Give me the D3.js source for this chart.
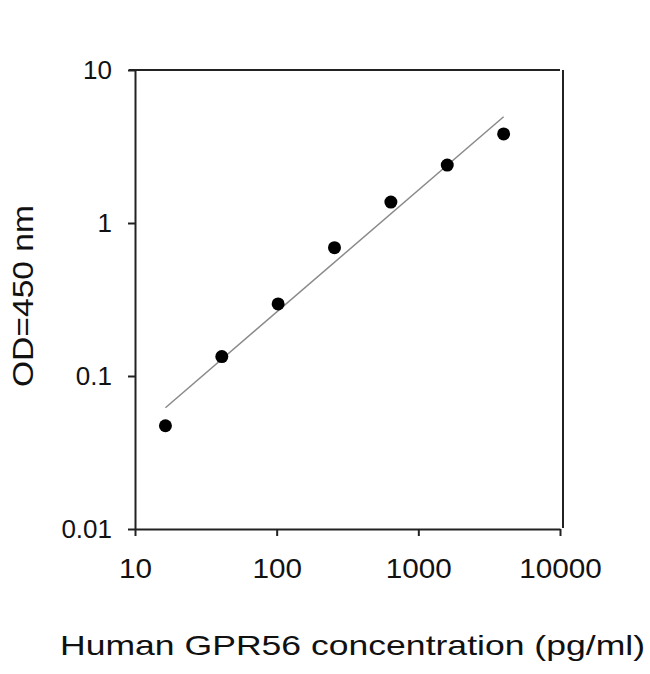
<!DOCTYPE html>
<html>
<head>
<meta charset="utf-8">
<script src="https://cdn.jsdelivr.net/npm/d3@7"></script>
<style>
  body { margin: 0; background: #fff; }
  text { font-family: "Liberation Sans", Arial, sans-serif; fill: #111; }
</style>
</head>
<body>
<main></main>
<script>
// standard curve values
const concentration = [16.4, 41, 102.4, 256, 640, 1600, 4000];
const od450 = [0.0473, 0.134, 0.296, 0.69, 1.37, 2.39, 3.82];

// fitted line ends
const fitX = [16.4, 4000];
const fitY = [0.062, 4.95];

const xTicks = [10, 100, 1000, 10000];
const yTicks = [0.01, 0.1, 1, 10];

const svg = d3.select("main")
              .append("svg")
              .attr("width", 650)
              .attr("height", 674);

const x = d3.scaleLog().domain([10, 10000]).range([135, 560]);
const y = d3.scaleLog().domain([0.01, 10]).range([529, 70]);

// frame lines (top and right)
svg.append("line")
   .attr("x1", 129).attr("x2", 560)
   .attr("y1", y(10)).attr("y2", y(10))
   .attr("stroke", "#222").attr("stroke-width", 2);
svg.append("line")
   .attr("x1", 563).attr("x2", 563)
   .attr("y1", y(10)).attr("y2", 528)
   .attr("stroke", "#222").attr("stroke-width", 2);

// axes
const xAxis = svg.append("g")
                 .attr("transform", `translate(0,${y(0.01)})`)
                 .call(d3.axisBottom(x).tickValues(xTicks).tickFormat(d3.format("d"))
                         .tickSize(7).tickSizeOuter(0).tickPadding(23));

const yAxis = svg.append("g")
                 .attr("transform", `translate(${x(10)},0)`)
                 .call(d3.axisLeft(y).tickValues(yTicks).tickFormat(d => String(d))
                         .tickSize(7).tickSizeOuter(0).tickPadding(16));

[xAxis, yAxis].forEach(a => {
  a.select(".domain").attr("stroke", "#222").attr("stroke-width", 2);
  a.selectAll(".tick line").attr("stroke", "#222").attr("stroke-width", 2);
  a.selectAll(".tick text").attr("font-family", "Liberation Sans, Arial, sans-serif").attr("fill", "#111");
});
yAxis.selectAll(".tick text").attr("font-size", 26);
// reference digits on the x axis run a little wider
xAxis.selectAll(".tick text")
     .attr("font-size", 27)
     .each(function() {
       const w = this.getComputedTextLength();
       d3.select(this).attr("textLength", w * 1.1).attr("lengthAdjust", "spacingAndGlyphs");
     });

// fit line
svg.append("line")
   .attr("x1", x(fitX[0])).attr("y1", y(fitY[0]))
   .attr("x2", x(fitX[1])).attr("y2", y(fitY[1]))
   .attr("stroke", "#8a8a8a").attr("stroke-width", 1.5);

// points
svg.append("g").selectAll("circle")
   .data(concentration)
   .enter().append("circle")
   .attr("cx", d => x(d))
   .attr("cy", (d, i) => y(od450[i]))
   .attr("r", 6.5)
   .attr("fill", "#000");

// axis titles
svg.append("text")
   .attr("x", 60).attr("y", 655)
   .attr("font-size", 28)
   .attr("textLength", 585)
   .attr("lengthAdjust", "spacingAndGlyphs")
   .text("Human GPR56 concentration (pg/ml)");

svg.append("text")
   .attr("transform", "translate(33,296) rotate(-90)")
   .attr("text-anchor", "middle")
   .attr("font-size", 30)
   .attr("textLength", 182)
   .attr("lengthAdjust", "spacingAndGlyphs")
   .text("OD=450 nm");
</script>
</body>
</html>
